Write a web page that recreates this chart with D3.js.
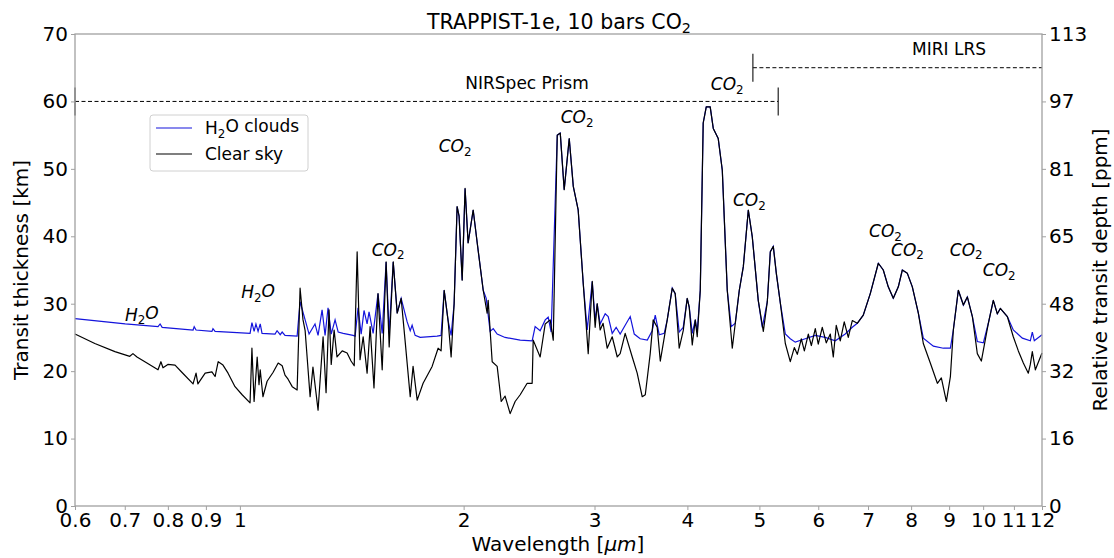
<!DOCTYPE html>
<html><head><meta charset="utf-8">
<script src="https://cdn.jsdelivr.net/npm/d3@7"></script>
<style>
body{margin:0;background:#fff;}
text{font-family:"DejaVu Sans",sans-serif;fill:#000;}
</style></head>
<body><svg id="c" width="1114" height="558"></svg>
<script>
// ---------- data ----------
const xTickValues = [0.6,0.7,0.8,0.9,1,2,3,4,5,6,7,8,9,10,11,12];
const xTickLabels = ["0.6","0.7","0.8","0.9","1","2","3","4","5","6","7","8","9","10","11","12"];
const leftTicks = [0,10,20,30,40,50,60,70];
const rightTickLabels = ["0","16","32","48","65","81","97","113"];

const clearWavelength = [0.600,0.638,0.679,0.711,0.718,0.727,0.745,0.776,0.783,0.788,0.800,0.818,0.836,0.865,0.873,0.878,0.898,0.917,0.926,0.935,0.949,0.964,0.985,1.007,1.032,1.038,1.045,1.055,1.061,1.065,1.074,1.088,1.108,1.126,1.140,1.150,1.161,1.176,1.194,1.205,1.216,1.224,1.243,1.254,1.274,1.294,1.306,1.318,1.327,1.339,1.351,1.373,1.394,1.411,1.425,1.438,1.451,1.465,1.483,1.497,1.515,1.534,1.554,1.573,1.588,1.608,1.628,1.648,1.668,1.695,1.710,1.732,1.764,1.814,1.848,1.865,1.883,1.906,1.924,1.942,1.960,1.972,1.991,2.009,2.028,2.060,2.086,2.125,2.151,2.158,2.185,2.219,2.247,2.274,2.310,2.346,2.383,2.435,2.473,2.481,2.535,2.575,2.615,2.640,2.673,2.698,2.731,2.774,2.809,2.852,2.897,2.942,2.979,3.006,3.025,3.053,3.081,3.120,3.169,3.219,3.248,3.299,3.372,3.424,3.478,3.511,3.565,3.598,3.643,3.678,3.758,3.817,3.852,3.900,3.949,3.998,4.023,4.061,4.099,4.124,4.163,4.201,4.241,4.293,4.334,4.401,4.457,4.526,4.597,4.640,4.698,4.757,4.831,4.891,4.982,5.061,5.124,5.172,5.220,5.269,5.335,5.418,5.502,5.571,5.623,5.693,5.747,5.818,5.873,5.945,6.000,6.075,6.151,6.228,6.286,6.344,6.423,6.503,6.585,6.667,6.771,6.898,7.049,7.227,7.339,7.453,7.570,7.689,7.785,7.907,8.030,8.181,8.308,8.490,8.678,8.785,8.923,9.035,9.118,9.260,9.406,9.522,9.672,9.821,9.944,10.162,10.320,10.449,10.547,10.778,10.979,11.152,11.326,11.502,11.574,11.645,11.756,12.0];
const clearThickness = [25.5,24.1,22.9,22.2,22.6,22.1,21.4,20.2,21.4,20.5,21.0,20.9,19.8,18.1,19.7,18.1,19.7,19.9,19.2,21.4,20.9,19.7,17.7,16.5,15.3,23.4,15.5,22.1,18.0,20.2,16.2,18.5,19.8,21.2,20.8,19.4,18.8,17.7,17.2,32.3,27.6,26.0,16.2,20.6,14.2,25.1,16.8,29.1,21.0,26.1,22.1,23.0,22.7,21.5,20.8,37.7,21.7,25.1,19.7,26.6,17.5,31.5,20.2,36.2,23.6,36.2,28.6,30.8,24.6,16.2,20.7,15.7,18.2,20.7,23.4,23.0,32.0,27.5,22.1,30.0,44.4,43.0,33.5,47.1,39.0,43.9,39.0,32.0,28.6,30.5,21.4,20.7,15.5,16.3,13.7,15.5,16.5,18.2,18.2,24.6,22.1,27.0,27.6,24.6,55.0,55.3,46.9,54.5,47.4,43.9,33.0,22.6,33.3,26.5,30.0,26.1,27.1,23.4,25.1,22.1,22.6,25.6,22.1,19.7,16.2,16.5,22.6,27.6,26.5,21.5,27.6,32.3,31.5,23.4,26.0,30.8,29.5,23.9,27.6,25.1,32.0,56.8,59.2,59.2,56.0,54.5,49.8,32.0,23.4,27.1,32.0,35.5,43.9,39.9,30.5,25.9,30.3,37.7,38.5,34.5,30.1,24.1,21.4,23.5,22.5,24.8,23.0,25.5,23.8,26.3,24.0,26.5,24.2,25.5,22.1,26.8,24.5,27.3,25.0,27.5,27.1,28.3,31.5,36.0,35.0,32.5,30.8,32.5,35.0,34.5,32.5,28.6,24.1,21.2,18.2,19.0,15.5,19.2,26.1,32.0,29.8,31.0,28.1,22.6,21.5,27.1,30.5,28.5,29.3,28.1,25.1,23.0,21.2,19.7,21.0,22.9,20.2,22.7];

const cloudWavelength = [0.600,0.701,0.776,0.781,0.786,0.865,0.868,0.873,0.917,0.920,0.926,1.032,1.038,1.045,1.051,1.058,1.065,1.071,1.115,1.122,1.133,1.140,1.150,1.194,1.205,1.224,1.239,1.262,1.274,1.290,1.302,1.314,1.327,1.343,1.356,1.377,1.420,1.429,1.442,1.456,1.469,1.483,1.492,1.511,1.534,1.554,1.573,1.588,1.608,1.628,1.648,1.679,1.695,1.705,1.721,1.748,1.842,1.865,1.883,1.906,1.924,1.942,1.960,1.972,1.991,2.009,2.028,2.060,2.086,2.125,2.145,2.171,2.192,2.219,2.274,2.383,2.473,2.496,2.535,2.575,2.599,2.623,2.673,2.698,2.731,2.774,2.809,2.852,2.897,2.933,2.979,3.006,3.025,3.053,3.101,3.130,3.169,3.208,3.248,3.299,3.351,3.393,3.456,3.533,3.587,3.621,3.666,3.723,3.758,3.817,3.852,3.900,3.949,3.998,4.023,4.061,4.099,4.124,4.163,4.201,4.241,4.293,4.334,4.401,4.457,4.526,4.582,4.640,4.698,4.757,4.831,4.891,4.982,5.045,5.124,5.172,5.220,5.269,5.335,5.418,5.502,5.587,5.763,5.945,6.131,6.325,6.523,6.667,6.771,6.898,7.049,7.227,7.339,7.453,7.570,7.689,7.785,7.907,8.030,8.181,8.308,8.571,8.840,9.035,9.118,9.260,9.406,9.522,9.672,9.821,10.006,10.162,10.320,10.449,10.547,10.778,10.979,11.292,11.574,11.645,11.718,12.0];
const cloudThickness = [27.8,27.0,26.6,27.0,26.5,26.1,26.6,26.1,25.9,26.3,25.9,25.6,27.2,25.9,27.0,25.9,27.0,25.6,25.5,26.0,25.4,25.8,25.3,25.2,30.3,27.6,25.5,27.0,25.3,29.1,25.3,29.4,25.5,27.6,25.8,25.6,25.3,25.2,29.4,25.5,29.0,27.0,28.8,25.6,31.5,25.6,36.2,25.6,36.2,28.6,30.8,27.3,26.0,26.8,25.3,25.0,25.2,25.3,32.0,27.5,25.3,30.0,44.4,43.0,33.5,47.1,39.0,43.9,39.0,32.0,30.8,25.9,26.3,25.5,25.0,24.6,24.5,26.6,26.0,27.6,28.0,25.8,55.0,55.3,46.9,54.5,47.4,43.9,33.0,26.1,33.3,27.5,30.0,27.0,28.5,28.1,25.6,26.5,25.5,26.8,28.1,25.5,24.8,24.6,26.0,28.3,25.4,25.6,27.6,32.3,31.5,25.8,26.5,30.8,29.5,25.6,27.6,25.8,32.0,56.8,59.2,59.2,56.0,54.5,49.8,32.0,26.6,27.1,32.0,35.5,43.9,39.9,30.5,26.5,30.3,37.7,38.5,34.5,30.1,25.5,24.8,24.3,24.8,25.3,25.0,24.5,25.5,26.5,27.1,28.3,31.5,36.0,35.0,32.5,30.8,32.5,35.0,34.5,32.5,28.6,24.9,23.7,23.4,23.4,26.1,32.0,29.8,31.0,28.1,24.4,24.2,27.1,30.5,28.5,29.3,28.1,26.1,24.9,24.5,25.8,24.5,25.4];

// instrument ranges [start, end, level km]
const nirspecRange = [0.6, 5.3, 60];
const miriRange = [4.9, 12, 65];

// annotations: [wavelength, km, molecule]
const annotations = [
  [0.738, 27.5, "H2O"], [1.058, 30.8, "H2O"], [1.583, 37.1, "CO2"], [1.948, 52.5, "CO2"],
  [2.842, 56.8, "CO2"], [4.526, 61.7, "CO2"], [4.846, 44.5, "CO2"], [7.39, 39.9, "CO2"],
  [7.91, 37.1, "CO2"], [9.49, 37.1, "CO2"], [10.51, 34.1, "CO2"]
];

// ---------- drawing ----------
const L=75, R=1042, T=34, B=506;
const svg = d3.select("#c");
const x = d3.scaleLog().domain([0.6,12]).range([L,R]);
const y = d3.scaleLinear().domain([0,70]).range([B,T]);
const yR = d3.scaleLinear().domain([0,113]).range([B,T]);
const grey = "#a0a0a0";
const blue = "#1414dc";

function subText(sel, base, sub, tail, italic){
  sel.append("tspan").text(base).attr("font-style", italic?"italic":null);
  sel.append("tspan").text(sub).attr("font-size","0.7em").attr("dy","0.3em");
  if(tail) sel.append("tspan").text(tail).attr("dy","-0.3em").attr("font-style", italic?"italic":null);
}

// data lines
const line = d3.line().x(d=>x(d[0])).y(d=>y(d[1]));
const cloudData = cloudWavelength.map((w,i)=>[w,cloudThickness[i]]);
const clearData = clearWavelength.map((w,i)=>[w,clearThickness[i]]);
svg.append("path").datum(cloudData).attr("d",line).attr("fill","none").attr("stroke",blue).attr("stroke-width",1.2);
svg.append("path").datum(clearData).attr("d",line).attr("fill","none").attr("stroke","#000").attr("stroke-width",1.2).attr("stroke-linejoin","round");

// instrument ranges
function range(r, capStart, capEnd){
  const yy = y(r[2]);
  svg.append("line").attr("x1",x(r[0])).attr("x2",x(r[1])).attr("y1",yy).attr("y2",yy)
    .attr("stroke","#000").attr("stroke-width",1).attr("stroke-dasharray","4,2.5");
  [[r[0],capStart],[r[1],capEnd]].forEach(([w,c])=>{ if(c) svg.append("line").attr("x1",x(w)).attr("x2",x(w)).attr("y1",yy-14).attr("y2",yy+14).attr("stroke","#222").attr("stroke-width",1.2);});
}
range(nirspecRange, true, true);
range(miriRange, true, false);
svg.append("text").attr("x",527).attr("y",y(nirspecRange[2])-12).attr("text-anchor","middle").attr("font-size",17).text("NIRSpec Prism");
svg.append("text").attr("x",949).attr("y",y(miriRange[2])-13).attr("text-anchor","middle").attr("font-size",17).text("MIRI LRS");

// annotations
annotations.forEach(a=>{
  const t = svg.append("text").attr("x",x(a[0])).attr("y",y(a[1])).attr("text-anchor","middle").attr("font-size",17);
  if(a[2]==="H2O") subText(t,"H","2","O",true); else subText(t,"CO","2",null,true);
});

// frame
svg.append("rect").attr("x",L).attr("y",T).attr("width",R-L).attr("height",B-T).attr("fill","none").attr("stroke",grey).attr("stroke-width",1.3);

// axes
function styleAxis(g){
  g.select(".domain").remove();
  g.selectAll(".tick line").attr("stroke",grey);
  g.selectAll(".tick text").attr("font-size",20).attr("font-family","DejaVu Sans").attr("fill","#000");
}
svg.append("g").attr("transform",`translate(0,${B})`)
  .call(d3.axisBottom(x).tickValues(xTickValues).tickFormat((d,i)=>xTickLabels[i]).tickSize(4).tickPadding(3)).call(styleAxis);
svg.append("g").attr("transform",`translate(${L},0)`)
  .call(d3.axisLeft(y).tickValues(leftTicks).tickSize(4).tickPadding(3)).call(styleAxis);
svg.append("g").attr("transform",`translate(${R},0)`)
  .call(d3.axisRight(yR).tickValues(leftTicks.map(v=>v*113/70)).tickFormat((d,i)=>rightTickLabels[i]).tickSize(4).tickPadding(3)).call(styleAxis);

// title and labels
const title = svg.append("text").attr("x",559).attr("y",29).attr("text-anchor","middle").attr("font-size",20.5);
subText(title,"TRAPPIST-1e, 10 bars CO","2",null,false);
const xl = svg.append("text").attr("x",558).attr("y",551).attr("text-anchor","middle").attr("font-size",20);
xl.append("tspan").text("Wavelength [");
xl.append("tspan").text("μm").attr("font-style","italic");
xl.append("tspan").text("]");
svg.append("text").attr("transform","translate(28,270) rotate(-90)").attr("text-anchor","middle").attr("font-size",20).text("Transit thickness [km]");
svg.append("text").attr("transform","translate(1107,270) rotate(-90)").attr("text-anchor","middle").attr("font-size",20).text("Relative transit depth [ppm]");

// legend
const lg = svg.append("g");
lg.append("rect").attr("x",150).attr("y",115).attr("width",158).attr("height",56).attr("rx",3).attr("fill","#fff").attr("stroke","#d0d0d0");
[[blue,128,"H2O clouds"],["#000",154,"Clear sky"]].forEach(([c,yy,lab])=>{
  lg.append("line").attr("x1",156).attr("x2",192).attr("y1",yy).attr("y2",yy).attr("stroke",c).attr("stroke-width",1.2);
  const t = lg.append("text").attr("x",205).attr("y",yy+6).attr("font-size",17);
  if(lab==="H2O clouds") subText(t,"H","2","O clouds",false); else t.text(lab);
});
</script></body></html>
